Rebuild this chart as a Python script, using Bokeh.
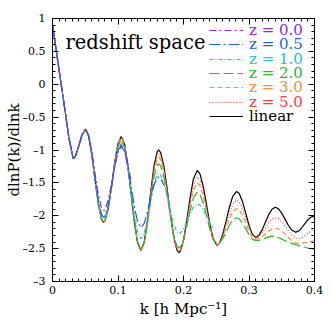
from bokeh.plotting import figure
from bokeh.models import (Range1d, LinearAxis, SingleIntervalTicker, CustomJSTickFormatter,
                          Legend, LegendItem, Label)
from bokeh.embed import file_html
from bokeh.resources import INLINE

# wavenumber k [h/Mpc]
K = [0, .005, .01, .015, .02, .025, .0316, .035, .04, .045, .0504, .055, .06, .065, .07, .075,
     .078, .08, .085, .09, .095, .1, .105, .11, .115, .12, .125, .13, .135, .14, .145, .15,
     .155, .16, .162, .165, .17, .175, .18, .185, .19, .193, .195, .2, .205, .21, .215, .221,
     .225, .23, .235, .24, .245, .251, .255, .26, .265, .27, .275, .281, .285, .29, .295, .3,
     .305, .31, .315, .32, .325, .33, .335, .34, .345, .35, .355, .36, .365, .371, .375, .38,
     .385, .39, .395, .4]

LINEAR = [0.90, 0.56, 0.22, -0.12, -0.46, -0.81, -1.13, -1.095, -0.942, -0.766, -0.68,
          -0.775, -1.063, -1.455, -1.825, -2.059, -2.10,
          -2.082, -1.895, -1.561, -1.189, -0.903, -0.795,
          -0.911, -1.229, -1.663, -2.096, -2.414, -2.53,
          -2.404, -2.068, -1.632, -1.239, -1.020, -1.00,
          -1.036, -1.243, -1.585, -1.975, -2.317, -2.524, -2.56,
          -2.544, -2.377, -2.074, -1.728, -1.446, -1.31,
          -1.359, -1.545, -1.821, -2.111, -2.342, -2.45,
          -2.415, -2.281, -2.083, -1.874, -1.708, -1.63,
          -1.662, -1.784, -1.961, -2.144, -2.28, -2.33,
          -2.299, -2.215, -2.10, -1.985, -1.901, -1.87,
          -1.894, -1.96, -2.051, -2.144, -2.216, -2.25, -2.237,
          -2.19, -2.123, -2.06, -2.017, -2.01]

Z50 = [0.90, 0.56, 0.22, -0.12, -0.46, -0.81, -1.13, -1.095, -0.942, -0.766, -0.68,
       -0.775, -1.063, -1.455, -1.825, -2.059, -2.10,
       -2.082, -1.896, -1.563, -1.193, -0.908, -0.80,
       -0.915, -1.23, -1.66, -2.09, -2.405, -2.52,
       -2.399, -2.076, -1.657, -1.279, -1.069, -1.05,
       -1.085, -1.284, -1.613, -1.988, -2.316, -2.516, -2.55,
       -2.536, -2.384, -2.107, -1.791, -1.534, -1.41,
       -1.454, -1.622, -1.871, -2.134, -2.342, -2.44,
       -2.411, -2.30, -2.135, -1.962, -1.825, -1.76,
       -1.787, -1.888, -2.034, -2.186, -2.298, -2.34,
       -2.319, -2.263, -2.185, -2.108, -2.051, -2.03,
       -2.046, -2.09, -2.154, -2.226, -2.29, -2.34, -2.35,
       -2.339, -2.31, -2.27, -2.23, -2.201]

Z30 = [0.90, 0.56, 0.22, -0.12, -0.46, -0.81, -1.13, -1.095, -0.942, -0.766, -0.68,
       -0.775, -1.063, -1.455, -1.825, -2.059, -2.10,
       -2.083, -1.897, -1.567, -1.20, -0.917, -0.81,
       -0.925, -1.238, -1.665, -2.093, -2.405, -2.52,
       -2.404, -2.094, -1.692, -1.330, -1.128, -1.11,
       -1.143, -1.332, -1.643, -1.998, -2.308, -2.497, -2.53,
       -2.517, -2.38, -2.129, -1.844, -1.612, -1.50,
       -1.54, -1.694, -1.921, -2.161, -2.351, -2.44,
       -2.416, -2.327, -2.194, -2.053, -1.942, -1.89,
       -1.912, -1.993, -2.112, -2.235, -2.326, -2.36,
       -2.349, -2.318, -2.275, -2.233, -2.201, -2.19,
       -2.201, -2.233, -2.279, -2.331, -2.377, -2.413, -2.42,
       -2.418, -2.41, -2.40, -2.39, -2.38]

Z20 = [0.90, 0.56, 0.22, -0.12, -0.46, -0.81, -1.13, -1.095, -0.945, -0.772, -0.69,
       -0.784, -1.071, -1.46, -1.826, -2.059, -2.10,
       -2.083, -1.902, -1.580, -1.22, -0.945, -0.84,
       -0.953, -1.26, -1.68, -2.10, -2.407, -2.52,
       -2.413, -2.124, -1.751, -1.414, -1.227, -1.21,
       -1.239, -1.41, -1.69, -2.01, -2.29, -2.461, -2.49,
       -2.479, -2.366, -2.159, -1.924, -1.733, -1.64,
       -1.674, -1.803, -1.994, -2.195, -2.355, -2.43,
       -2.413, -2.348, -2.251, -2.149, -2.068, -2.03,
       -2.046, -2.107, -2.196, -2.287, -2.355, -2.38,
       -2.375, -2.36, -2.34, -2.322, -2.31, -2.315,
       -2.33, -2.355, -2.38, -2.40, -2.42, -2.44, -2.45,
       -2.465, -2.475, -2.49, -2.50, -2.51]

Z10 = [0.90, 0.56, 0.22, -0.12, -0.46, -0.81, -1.13, -1.095, -0.945, -0.775, -0.70,
       -0.79, -1.065, -1.437, -1.788, -2.011, -2.05,
       -2.034, -1.869, -1.575, -1.247, -0.995, -0.90,
       -0.997, -1.263, -1.625, -1.988, -2.253, -2.35,
       -2.269, -2.051, -1.769, -1.514, -1.373, -1.36,
       -1.381, -1.502, -1.701, -1.929, -2.128, -2.249, -2.27,
       -2.264, -2.204, -2.095, -1.97, -1.869, -1.82,
       -1.837, -1.902, -1.999, -2.101, -2.182]

Z05 = [0.90, 0.56, 0.22, -0.12, -0.46, -0.81, -1.13, -1.095, -0.945, -0.775, -0.70,
       -0.788, -1.056, -1.421, -1.764, -1.982, -2.02,
       -2.005, -1.847, -1.566, -1.252, -1.011, -0.92,
       -1.004, -1.235, -1.55, -1.865, -2.096, -2.18,
       -2.117, -1.947, -1.728, -1.53, -1.42, -1.41,
       -1.428, -1.533]

Z00 = [0.90, 0.56, 0.22, -0.12, -0.46, -0.81, -1.13, -1.095, -0.945, -0.772, -0.69,
       -0.772, -1.022, -1.362, -1.681, -1.884, -1.92,
       -1.907, -1.768, -1.519, -1.243, -1.03, -0.95,
       -1.02, -1.213, -1.475]

LABELS = ["z = 0.0", "z = 0.5", "z = 1.0", "z = 2.0", "z = 3.0", "z = 5.0", "linear"]
COLORS = ["#8a2be2", "#1f5fe0", "#22c4cc", "#2db52d", "#ff8c40", "#ff3b3b", "black"]
DASHES = ["7 3 2 3", "11 3 2 3", "4 2 1 2", "10 4", "5 3", "1 2", "solid"]
VALUES = [Z00, Z05, Z10, Z20, Z30, Z50, LINEAR]

SERIF = "DejaVu Serif"

p = figure(width=324, height=322, output_backend="svg", toolbar_location=None,
           x_range=Range1d(0, 0.4), y_range=Range1d(-3, 1),
           min_border_left=52, min_border_right=10, min_border_top=18, min_border_bottom=41,
           background_fill_color="white", border_fill_color="white")
p.grid.visible = False
p.outline_line_color = "black"

fmt = CustomJSTickFormatter(code="""
const a = Math.abs(tick);
const s = parseFloat(a.toFixed(2)).toString();
return (tick < -1e-9 ? '\\u2013' : '') + s;
""")
blank = CustomJSTickFormatter(code="return '';")

def style(ax, labels=True):
    ax.axis_line_color = "black"
    ax.major_tick_in = 6
    ax.major_tick_out = 0
    ax.minor_tick_in = 3
    ax.minor_tick_out = 0
    ax.major_tick_line_color = "black"
    ax.minor_tick_line_color = "black"
    ax.major_label_text_font = SERIF
    ax.major_label_text_color = "black"
    ax.major_label_text_font_size = "11px"
    ax.axis_label_text_font = SERIF
    ax.axis_label_text_font_style = "normal"
    ax.axis_label_text_color = "black"
    if labels:
        ax.formatter = fmt
    else:
        ax.formatter = blank
        ax.major_label_standoff = 0

xax = p.below[0]
yax = p.left[0]
xax.ticker = SingleIntervalTicker(interval=0.1, num_minor_ticks=10)
yax.ticker = SingleIntervalTicker(interval=0.5, num_minor_ticks=5)
style(xax)
style(yax)
xax.major_label_standoff = 4
yax.major_label_standoff = 7
xax.axis_label = "k [h Mpc\u207b\u00b9]"
yax.axis_label = "dlnP(k)/dlnk"
xax.axis_label_text_font_size = "15px"
yax.axis_label_text_font_size = "15px"
xax.axis_label_standoff = 3
yax.axis_label_standoff = -3

top = LinearAxis(ticker=SingleIntervalTicker(interval=0.1, num_minor_ticks=10))
right = LinearAxis(ticker=SingleIntervalTicker(interval=0.5, num_minor_ticks=5))
style(top, labels=False)
style(right, labels=False)
p.add_layout(top, "above")
p.add_layout(right, "right")

renderers = []
for vals, col, dash in zip(reversed(VALUES), reversed(COLORS), reversed(DASHES)):
    r = p.line(K[:len(vals)], vals, line_color=col, line_width=1.2, line_dash=dash)
    renderers.append(r)
renderers = renderers[::-1]

row_offsets = [12.5, 26.8, 41.1, 55.4, 69.7, 84.0, 98.3]
frame_h = 263
for lab, col, r, off in zip(LABELS, COLORS, renderers, row_offsets):
    leg = Legend(items=[LegendItem(label=lab, renderers=[r])],
                 location=(157, frame_h - off - 8.5),
                 padding=0, margin=0, spacing=0, border_line_color=None,
                 background_fill_alpha=0, glyph_width=34, glyph_height=14,
                 label_height=14, label_standoff=6,
                 label_text_font=SERIF, label_text_font_size="15px",
                 label_text_color=col)
    p.add_layout(leg)

p.add_layout(Label(x=0.0198, y=0.64, text="redshift space", text_font=SERIF,
                   text_font_size="19.5px", text_baseline="alphabetic", text_color="black"))

open("out.html", "w").write(file_html(p, INLINE))
